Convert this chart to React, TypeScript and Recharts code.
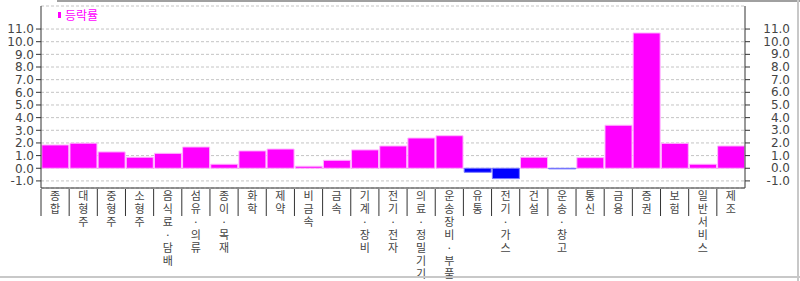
import { BarChart, Bar, Cell, XAxis, YAxis, CartesianGrid } from 'recharts'

// 업종별 등락률 (%)
const categories = [
  '종합', '대형주', '중형주', '소형주', '음식료·담배', '섬유·의류', '종이·목재', '화학', '제약',
  '비금속', '금속', '기계·장비', '전기·전자', '의료·정밀기기', '운송장비·부품', '유통', '전기·가스',
  '건설', '운송·창고', '통신', '금융', '증권', '보험', '일반서비스', '제조',
]
const changeRates = [
  1.84, 1.98, 1.29, 0.87, 1.18, 1.68, 0.32, 1.37, 1.52,
  0.16, 0.63, 1.45, 1.76, 2.39, 2.57, -0.32, -0.82,
  0.87, -0.05, 0.84, 3.4, 10.69, 1.97, 0.32, 1.76,
]
const yTicks = [-1, 0, 1, 2, 3, 4, 5, 6, 7, 8, 9, 10, 11]

const W = 800
const H = 281
const PLOT_L = 41
const PLOT_R = 745
const BAND = (PLOT_R - PLOT_L) / categories.length

const rows = categories.map((name, i) => ({ name, value: changeRates[i] }))

const AXIS_CLR = '#333'
const TEXT_CLR = '#444'
const NUM_FONT = '"DejaVu Sans", sans-serif'
const KR_FONT = '"Noto Sans CJK KR", sans-serif'

/** 세로쓰기 카테고리 라벨 + 구간 경계 눈금. */
function CategoryTick({ x, y, payload }: any) {
  const left = x - BAND / 2
  return (
    <g>
      <line x1={left} y1={y + 1} x2={left} y2={y + 28} stroke={AXIS_CLR} strokeWidth={1} />
      <text
        x={x}
        y={y + 2}
        fontSize={11}
        fontFamily={KR_FONT}
        fill={TEXT_CLR}
        style={{ writingMode: 'vertical-rl', textOrientation: 'upright', letterSpacing: 2 }}
      >
        {payload.value}
      </text>
    </g>
  )
}

function RightTick({ y, payload }: any) {
  return (
    <text x={790} y={y} textAnchor="end" dominantBaseline="central" fontSize={12} fontFamily={NUM_FONT} fill={TEXT_CLR}>
      {Number(payload.value).toFixed(1)}
    </text>
  )
}

export default function App() {
  return (
    <div style={{ position: 'absolute', left: 0, top: 0, width: W, height: H, background: '#fff', overflow: 'hidden' }}>
      <BarChart width={W} height={H} data={rows} margin={{ top: 6, right: 0, bottom: 0, left: 0 }} barCategoryGap={0.8}>
        <CartesianGrid yAxisId="l" vertical={false} stroke="#c4c4c4" strokeDasharray="3 2" />
        <XAxis
          dataKey="name"
          height={93}
          interval={0}
          tickSize={0}
          tickMargin={0}
          tickLine={false}
          axisLine={{ stroke: AXIS_CLR }}
          tick={<CategoryTick />}
        />
        <XAxis xAxisId="top" dataKey="name" orientation="top" height={0} tick={false} tickLine={false} axisLine={{ stroke: AXIS_CLR }} />
        <YAxis
          yAxisId="l"
          width={PLOT_L}
          domain={[-1.56, 12.82]}
          allowDataOverflow
          ticks={yTicks}
          interval={0}
          tickSize={5}
          tickMargin={2}
          tickLine={{ stroke: AXIS_CLR }}
          axisLine={{ stroke: AXIS_CLR }}
          tickFormatter={(v: number) => v.toFixed(1)}
          tick={{ fontSize: 12, fontFamily: NUM_FONT, fill: TEXT_CLR }}
        />
        <YAxis
          yAxisId="r"
          orientation="right"
          width={W - PLOT_R}
          domain={[-1.56, 12.82]}
          allowDataOverflow
          ticks={yTicks}
          interval={0}
          tickSize={5}
          tickLine={{ stroke: AXIS_CLR }}
          axisLine={{ stroke: AXIS_CLR }}
          tick={<RightTick />}
        />
        <Bar yAxisId="l" dataKey="value" name="등락률" isAnimationActive={false}>
          {rows.map((r) => (
            <Cell
              key={r.name}
              fill={r.value >= 0 ? '#ff00ff' : '#0000ff'}
              stroke={r.value >= 0 ? '#ffb8ff' : '#7a7aff'}
              strokeWidth={1}
            />
          ))}
        </Bar>
      </BarChart>
      {/* 범례 */}
      <div style={{ position: 'absolute', left: 58, top: 9, display: 'flex', alignItems: 'center', gap: 4 }}>
        <span style={{ width: 3, height: 6, background: '#ff00ff', display: 'inline-block' }} />
        <span style={{ fontSize: 12, fontFamily: KR_FONT, color: '#ff00ff', lineHeight: 1 }}>등락률</span>
      </div>
      {/* 창 테두리 */}
      <div style={{ position: 'absolute', left: 57, top: 0, width: W - 57, height: 2, background: '#a0a0a0' }} />
      <div style={{ position: 'absolute', left: 797, top: 0, width: 2, height: H, background: '#c8c8c8' }} />
      <div style={{ position: 'absolute', left: 0, top: 276, width: W, height: 2, background: '#c8c8c8' }} />
    </div>
  )
}
